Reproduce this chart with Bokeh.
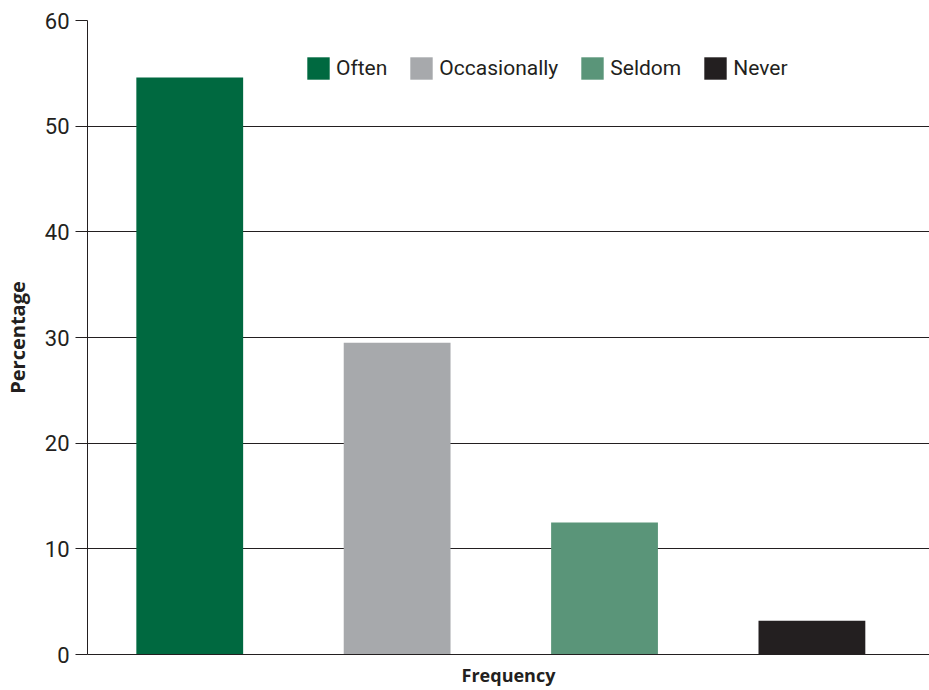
from bokeh.plotting import figure
from bokeh.models import ColumnDataSource, Range1d, FixedTicker
from bokeh.embed import file_html
from bokeh.resources import INLINE

categories = ["Often", "Occasionally", "Seldom", "Never"]
values = [54.6, 29.5, 12.5, 3.2]
colors = ["#006940", "#a7a9ac", "#5a9579", "#231f20"]
y_ticks = [0, 10, 20, 30, 40, 50, 60]

FONT = "Roboto"
BOLD_FONT = "Open Sans"
INK = "#231f20"

src = ColumnDataSource(dict(x=list(range(len(categories))), top=values,
                            cat=categories, color=colors))

p = figure(width=929, height=690, output_backend="svg", toolbar_location=None,
           x_range=Range1d(-0.493, 3.567), y_range=Range1d(0, 60),
           min_border_left=87, min_border_right=0, min_border_top=20,
           min_border_bottom=36)
p.outline_line_color = None
p.background_fill_color = "white"
p.border_fill_color = "white"

r = p.vbar(x="x", top="top", width=0.515, color="color", line_color=None,
           source=src, legend_field="cat")

p.xgrid.grid_line_color = None
p.ygrid.grid_line_color = INK
p.ygrid.grid_line_width = 1
p.ygrid.ticker = FixedTicker(ticks=y_ticks)

ya = p.yaxis[0]
ya.ticker = FixedTicker(ticks=y_ticks)
ya.axis_line_color = INK
ya.major_tick_line_color = INK
ya.major_tick_out = 12
ya.major_tick_in = 0
ya.minor_tick_line_color = None
ya.major_label_text_font = FONT
ya.major_label_text_font_size = "22px"
ya.major_label_text_color = INK
ya.major_label_standoff = 6
ya.axis_label = "Percentage"
ya.axis_label_text_font = BOLD_FONT
ya.axis_label_text_font_style = "bold"
ya.axis_label_text_font_size = "20px"
ya.axis_label_text_color = INK
ya.axis_label_standoff = 11

xa = p.xaxis[0]
xa.axis_line_color = INK
xa.major_tick_line_color = None
xa.minor_tick_line_color = None
xa.major_label_text_font_size = "0px"
xa.major_label_text_color = None
xa.axis_label = "Frequency"
xa.axis_label_text_font = BOLD_FONT
xa.axis_label_text_font_style = "bold"
xa.axis_label_text_font_size = "18px"
xa.axis_label_text_color = INK
xa.axis_label_standoff = 2

lg = p.legend[0]
lg.orientation = "horizontal"
lg.location = (217, 572)
lg.padding = 0
lg.margin = 0
lg.spacing = 20
lg.glyph_width = 28
lg.glyph_height = 28
lg.label_height = 28
lg.label_standoff = 4
lg.label_text_font = FONT
lg.label_text_font_size = "21px"
lg.label_text_color = INK
lg.background_fill_alpha = 0
lg.border_line_color = None

open("out.html", "w").write(file_html(p, INLINE))
